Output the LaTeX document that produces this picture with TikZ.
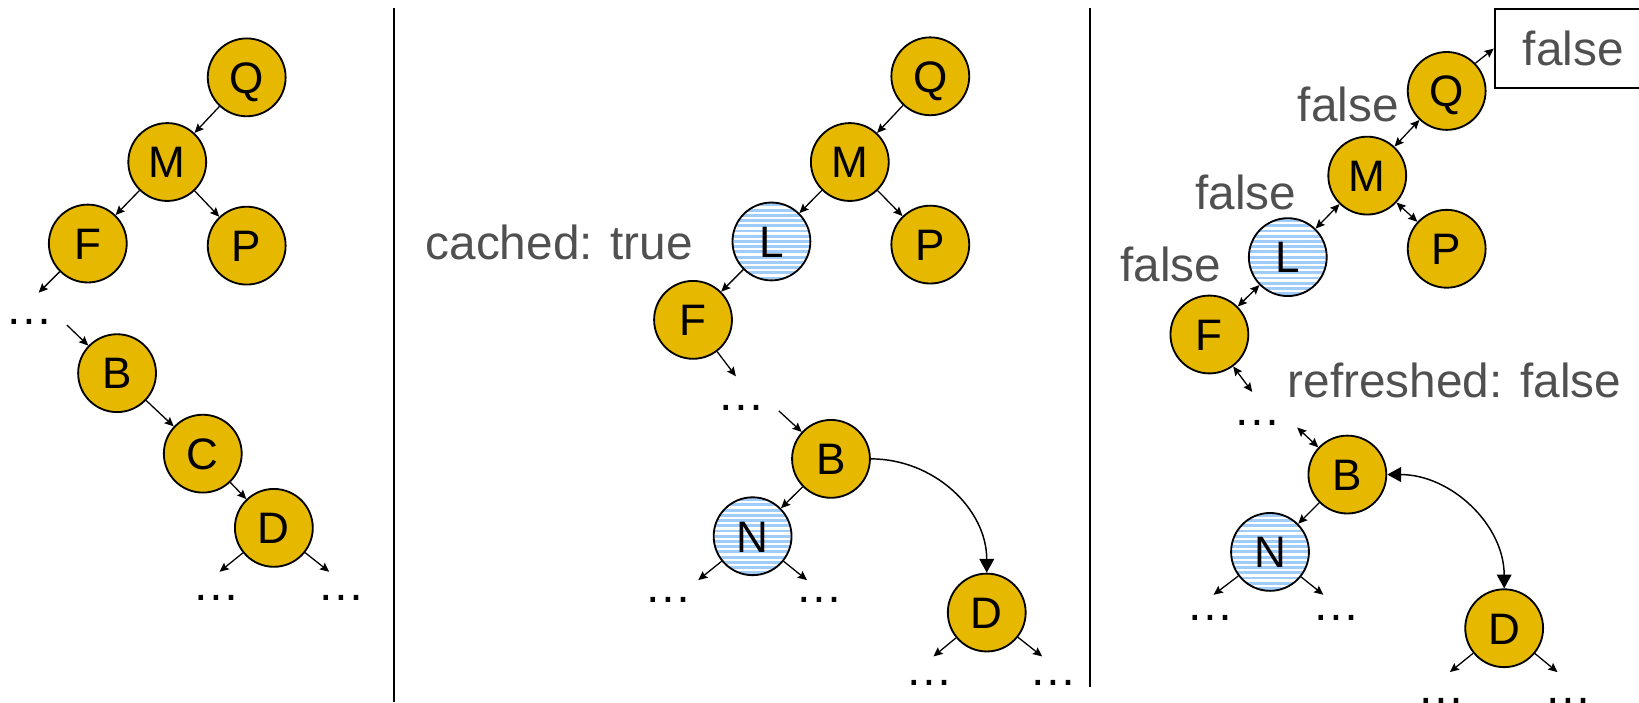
\documentclass[tikz,border=0pt]{standalone}
\usepackage{fontspec}
\setmainfont{Liberation Sans}
\usetikzlibrary{arrows.meta}
\definecolor{gold}{RGB}{230,184,0}
\definecolor{graytext}{RGB}{80,80,80}
\definecolor{stripeblue}{RGB}{160,204,250}
\tikzset{
  tn/.style={circle, draw=black, line width=1pt, fill=gold, minimum size=1.49cm, inner sep=0pt,
    font=\fontsize{24}{28}\selectfont, text height=17.2pt, text depth=0pt},
  striped/.style={tn, fill=white, path picture={
      \foreach \k in {-9,...,9}{
        \draw[stripeblue, line width=0.055cm]
          ([shift={(-1cm,{\k*0.1cm})}]path picture bounding box.center) -- ++(2cm,0);}}},
  ellip/.style={inner sep=0pt, font=\fontsize{26}{30}\selectfont},
  lbl/.style={anchor=base, inner sep=0pt, text=graytext, font=\fontsize{26}{30}\selectfont},
  conn/.style={line width=0.7pt, -{Stealth[length=5pt,width=4.5pt,inset=0.8pt]}},
  dconn/.style={line width=0.7pt, {Stealth[length=5pt,width=4.5pt,inset=0.8pt]}-{Stealth[length=5pt,width=4.5pt,inset=0.8pt]}},
  bigconn/.style={line width=0.8pt, -{Triangle[length=7.5pt,width=8pt]}},
  bigdconn/.style={line width=0.8pt, {Triangle[length=7.5pt,width=8pt]}-{Triangle[length=7.5pt,width=8pt]}},
  divider/.style={line width=1.1pt},
}
\begin{document}
\begin{tikzpicture}[x=0.02cm, y=-0.02cm]
\path[use as bounding box] (0,0) rectangle (1568,672);
\clip (0,0) rectangle (1568,672);

% dividers
\draw[divider] (377,8) -- (377,672);
\draw[divider] (1043,8) -- (1043,657);

% ---------- panel 1 ----------
\node[tn] (aQ) at (236,74) {Q};
\node[tn] (aM) at (160,155) {M};
\node[tn] (aF) at (84,233) {F};
\node[tn] (aP) at (236,235) {P};
\node[tn] (aB) at (112,357) {B};
\node[tn] (aC) at (194,434) {C};
\node[tn] (aD) at (262,505) {D};
\node[ellip] (ad1) at (28,308) {…};
\node[ellip] (ad2) at (207,572) {…};
\node[ellip] (ad3) at (327,572) {…};
\coordinate (aFx) at (37,280);
\coordinate (aBx) at (64,311);
\coordinate (aD1) at (210,547);
\coordinate (aD2) at (315,547);
\draw[conn] (aQ) -- (aM);
\draw[conn] (aM) -- (aF);
\draw[conn] (aM) -- (aP);
\draw[conn] (aF) -- (aFx);
\draw[conn] (aBx) -- (aB);
\draw[conn] (aB) -- (aC);
\draw[conn] (aC) -- (aD);
\draw[conn] (aD) -- (aD1);
\draw[conn] (aD) -- (aD2);

% ---------- panel 2 ----------
\node[tn] (bQ) at (890,73) {Q};
\node[tn] (bM) at (813,155) {M};
\node[striped] (bL) at (738,231) {L};
\node[tn] (bP) at (890,234) {P};
\node[tn] (bF) at (663,306) {F};
\node[tn] (bB) at (795,439) {B};
\node[striped] (bN) at (720,513) {N};
\node[tn] (bD) at (944,586) {D};
\node[lbl] (cached) at (535,248.5) {cached: true};
\node[ellip] (bd1) at (709,390) {…};
\node[ellip] (bd2) at (639,574) {…};
\node[ellip] (bd3) at (784,574) {…};
\node[ellip] (bd4) at (889,653) {…};
\node[ellip] (bd5) at (1008,653) {…};
\coordinate (bFx) at (704,360);
\coordinate (bBx) at (745,393);
\coordinate (bN1) at (668,555);
\coordinate (bN2) at (772,555);
\coordinate (bD1) at (893,628);
\coordinate (bD2) at (997,628);
\draw[conn] (bQ) -- (bM);
\draw[conn] (bM) -- (bL);
\draw[conn] (bM) -- (bP);
\draw[conn] (bL) -- (bF);
\draw[conn] (bF) -- (bFx);
\draw[conn] (bBx) -- (bB);
\draw[conn] (bB) -- (bN);
\draw[conn] (bN) -- (bN1);
\draw[conn] (bN) -- (bN2);
\draw[conn] (bD) -- (bD1);
\draw[conn] (bD) -- (bD2);
\draw[bigconn] (bB.east) to[out=0,in=90] (bD.north);

% ---------- panel 3 ----------
\node[tn] (cQ) at (1384,87) {Q};
\node[tn] (cM) at (1308,168) {M};
\node[striped] (cL) at (1232,246) {L};
\node[tn] (cP) at (1384,238) {P};
\node[tn] (cF) at (1157,320) {F};
\node[tn] (cB) at (1289,454) {B};
\node[striped] (cN) at (1215,528) {N};
\node[tn] (cD) at (1439,601) {D};
\node[draw, line width=1.1pt, minimum width=3cm, minimum height=1.5cm, inner sep=0pt,
  text=graytext, font=\fontsize{26}{30}\selectfont] (box) at (1505,46.5) {false};
\node[lbl] (fM) at (1290,116.5) {false};
\node[lbl] (fL) at (1192,200) {false};
\node[lbl] (fF) at (1120,269) {false};
\node[lbl] (refr) at (1391.5,380) {refreshed: false};
\node[ellip] (cd1) at (1203,405) {…};
\node[ellip] (cd2) at (1158,591) {…};
\node[ellip] (cd3) at (1278,591) {…};
\node[ellip] (cd4) at (1379,671) {…};
\node[ellip] (cd5) at (1500,671) {…};
\coordinate (cFx) at (1198,375);
\coordinate (cBx) at (1241,409);
\coordinate (cN1) at (1161,569);
\coordinate (cN2) at (1266,569);
\coordinate (cD1) at (1387,643);
\coordinate (cD2) at (1490,643);
\draw[conn] (cQ.44) -- (box.west);
\draw[dconn] (cQ) -- (cM);
\draw[dconn] (cM) -- (cL);
\draw[dconn] (cM) -- (cP);
\draw[dconn] (cL) -- (cF);
\draw[dconn] (cF) -- (cFx);
\draw[dconn] (cBx) -- (cB);
\draw[conn] (cB) -- (cN);
\draw[conn] (cN) -- (cN1);
\draw[conn] (cN) -- (cN2);
\draw[conn] (cD) -- (cD1);
\draw[conn] (cD) -- (cD2);
\draw[bigdconn] (cB.east) to[out=0,in=90] (cD.north);
\end{tikzpicture}
\end{document}
